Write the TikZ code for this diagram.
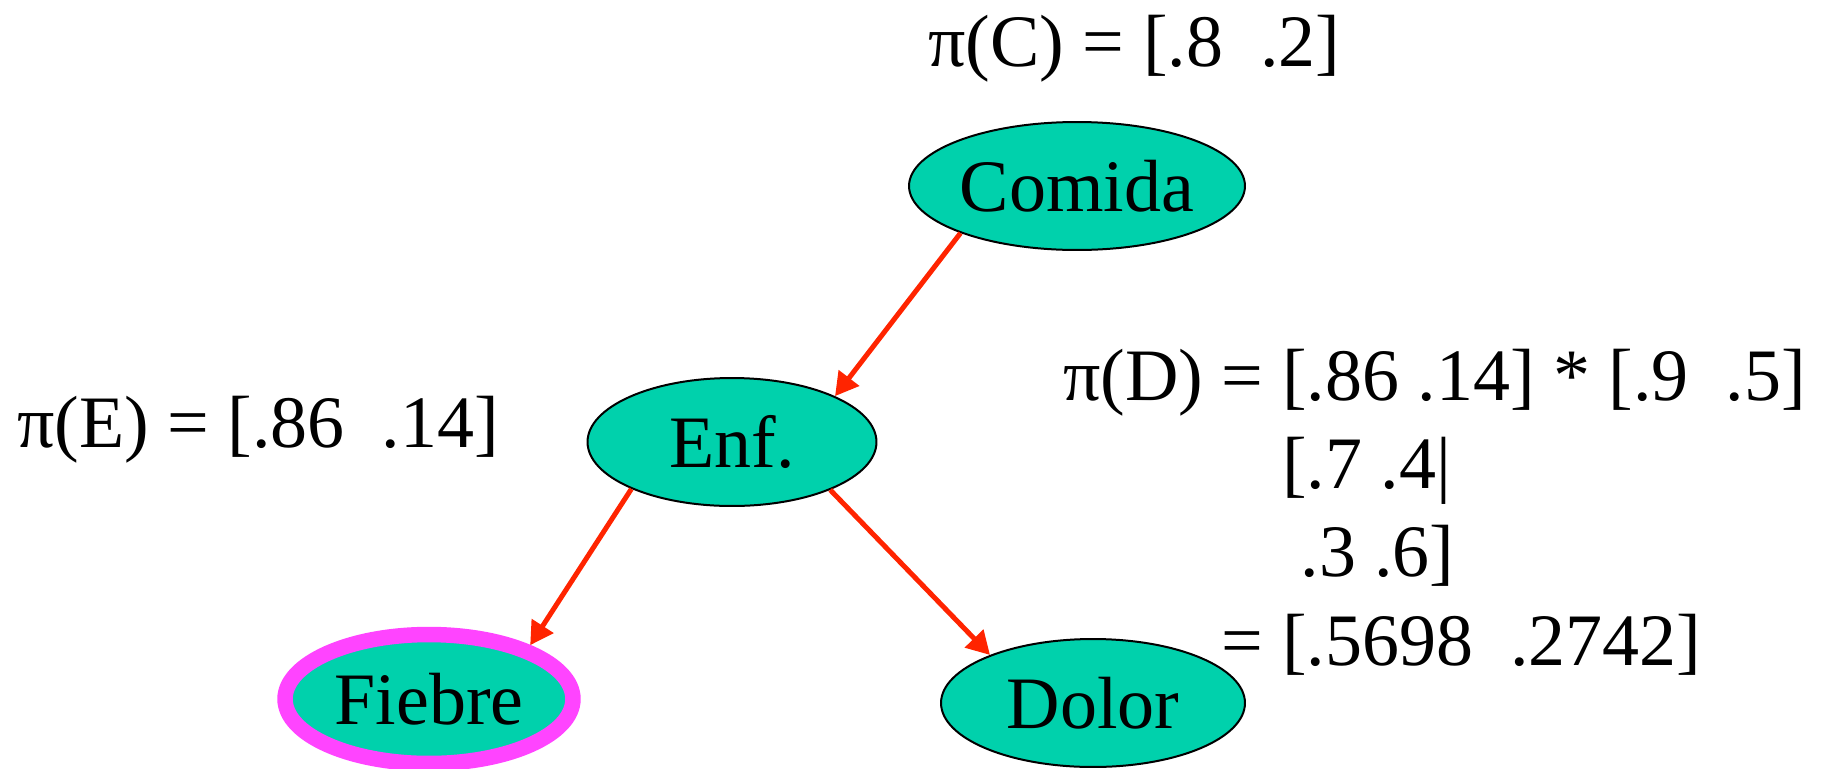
\documentclass[tikz,border=0pt]{standalone}
\usepackage{fontspec}
\setmainfont{Liberation Serif}
\usetikzlibrary{shapes.geometric, arrows.meta, positioning}

\definecolor{nodeteal}{RGB}{0,209,172}
\definecolor{evidmag}{RGB}{255,68,255}
\definecolor{arrowred}{RGB}{255,36,0}
\newcommand\bigfont{\fontsize{42.1}{50.2}\selectfont}

\begin{document}
\begin{tikzpicture}[
        x=0.02cm, y=-0.02cm, % one unit = one pixel of the slide
        % styles
        var/.style={ellipse, draw=black, line width=0.04cm, fill=nodeteal, inner sep=0pt, minimum height=2.56cm, font=\bigfont},
        evidence/.style={var, draw=evidmag, line width=0.31cm},
        prob/.style={anchor=base west, inner sep=0pt, font=\bigfont, align=left},
        arrow/.style={arrowred, line width=0.1cm, -{Triangle[length=0.46cm, width=0.5cm]}} ]

    \useasboundingbox (0,0) rectangle (1836,768);

    % --- NETWORK ---
    \node (comida) [var, minimum width=6.72cm] at (1077,186) {Comida};
    \node (enf)    [var, minimum width=5.78cm] at (732,442) {Enf.};
    \node (fiebre) [evidence, minimum width=5.76cm, minimum height=2.58cm] at (429,699) {Fiebre};
    \node (dolor)  [var, minimum width=6.08cm] at (1093,703) {Dolor};

    % --- PROBABILITIES ---
    \node (piC) [prob] at (928,66) {π(C) = [.8~~.2]};
    \node (piE) [prob] at (17,447) {π(E) = [.86~~.14]};
    % base of a multi-line node sits on its last line
    \node (piD) [prob] at (1063,665) {π(D) = [.86 .14] * [.9~~.5]\\
        \hphantom{π(D) =~}[.7 .4|\\
        \hphantom{π(D) =~}~.3 .6]\\
        \hphantom{π(D)~}= [.5698~~.2742]};

    % --- CONNECTIONS ---
    \draw [arrow] (comida.202) -- (enf.24);
    \draw [arrow] (enf.205) -- (fiebre.28);
    \draw [arrow] (enf.334) -- (dolor.155);

\end{tikzpicture}
\end{document}
